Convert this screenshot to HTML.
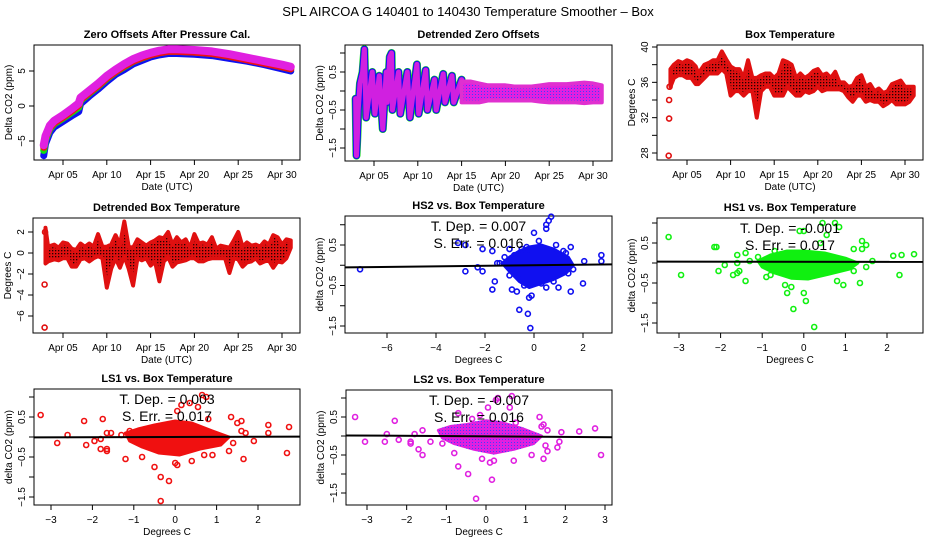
<!DOCTYPE html>
<html><head><meta charset="utf-8"><style>
html,body{margin:0;padding:0;background:#fff}
svg{display:block;font-family:"Liberation Sans",sans-serif}
</style></head><body>
<svg id="chart" width="936" height="540" viewBox="0 0 936 540">
<defs>
<pattern id="dotsRed" width="3" height="3" patternUnits="userSpaceOnUse"><rect width="3" height="3" fill="#e01010"/><rect x="1" y="1" width="1.3" height="1.3" fill="#200"/></pattern>
<pattern id="dotsMag" width="3" height="3" patternUnits="userSpaceOnUse"><rect width="3" height="3" fill="#e020e0"/><rect x="1" y="1" width="1" height="1" fill="#4040ff"/></pattern>
</defs>
<text x="468" y="16" text-anchor="middle" font-size="13">SPL   AIRCOA G   140401 to 140430   Temperature Smoother – Box</text>
</svg>
<script>
// ---- data ----
const zeroDays = [2.8,3.0,3.5,4.0,5.0,6.0,6.8,7.0,8,9,10,11,12,13,14,15,16,17,18,20,22,24,26,28,30,31];
const zeroMag  = [-5.6,-4.3,-2.8,-2.1,-1.3,-0.4,0.4,1.2,2.2,3.2,4.3,5.2,6.0,6.7,7.2,7.6,7.9,8.1,8.1,8.0,7.8,7.4,6.9,6.4,5.9,5.6];
const zeroBlue = [-7.1,-5.4,-3.8,-3.0,-2.2,-1.4,-0.8,0.3,1.4,2.4,3.5,4.5,5.2,6.0,6.5,7.0,7.3,7.5,7.5,7.4,7.2,6.8,6.4,5.9,5.3,5.0];
const detDays = [2.9,3.0,3.1,3.2,3.4,3.7,3.9,4.1,4.8,5.1,5.6,6.0,6.4,6.5,6.8,7.0,7.1,7.8,8.0,8.8,9.1,9.9,10.1,10.9,11.1,11.9,12.1,12.9,13.1,13.9,14.1,15.0,15.2];
const detVals = [-0.2,-1.7,-1.2,-0.5,0.2,0.5,1.1,-0.7,0.5,-0.6,0.4,-1.0,0.5,-0.3,0.9,1.0,-0.5,0.5,-0.6,0.5,-0.7,0.7,-0.6,0.55,-0.5,0.3,-0.5,0.45,-0.3,0.4,-0.3,0.3,-0.2];
const detTailDays = [15,16,17,18,19,20,21,22,23,24,25,26,27,28,29,30,31];
const detTailLo = [-0.3,-0.3,-0.3,-0.25,-0.25,-0.25,-0.25,-0.25,-0.25,-0.28,-0.3,-0.3,-0.3,-0.3,-0.32,-0.3,-0.3];
const detTailHi = [0.25,0.25,0.2,0.15,0.15,0.15,0.12,0.12,0.12,0.15,0.18,0.18,0.18,0.2,0.22,0.2,0.15];
const boxEarlyDays = [2.9,2.95,2.95,3.0];
const boxEarlyVals = [27.7,31.9,34.0,35.5];
const boxDays = [3.1,3.5,4,4.5,5,5.5,6,6.3,7,7.5,8,8.5,9,9.5,10,10.5,11,11.5,12,12.5,13,13.5,14,14.5,15,15.5,16,16.5,17,17.5,18,18.5,19,19.5,20,20.5,21,21.5,22,22.5,23,23.5,24,24.5,25,25.5,26,26.5,27,27.5,28,28.5,29,29.5,30,30.5,31];
const boxLo = [35.5,36.5,36.8,36.8,36.5,36.5,35.8,35.8,36.5,37,37,37,37.5,37,34.5,35,35,34.5,35,35,32,35,35.5,35.5,34.5,34.5,34.5,35.5,35,34.5,34.5,35,34.8,35,35.5,35,35.2,35.2,35.2,35.2,35,34.3,33.8,34.5,34.5,33.8,34,33.8,33.8,33.3,33.6,34,33.5,33.5,33.5,33.8,34.5];
const boxHi = [37.5,38,38.4,38.2,38.5,38.3,37.8,37,38,38.2,38.5,38.5,39.5,38.6,37.8,37.5,37.5,36.5,38.5,36.5,36.5,36.8,37,37,36.5,37,38.5,38.3,38,36.5,37,36.5,36.8,37.3,37.5,36.8,37,36.5,37.2,36,36,35.5,35.6,36.5,36.8,35.5,35.8,35,35.3,34.8,35,35.8,36,36.2,35.5,35.5,35.5];
const dboxEarlyDays = [2.9,2.9,2.95];
const dboxEarlyVals = [-7.1,-3.0,2.0];
const dboxDays = [3.0,3.3,4,4.5,5,5.5,6,6.5,7,7.5,8,8.5,9,9.5,10,10.5,11,11.5,12,12.5,13,13.5,14,14.5,15,15.5,16,16.5,17,17.5,18,18.5,19,19.5,20,20.5,21,21.5,22,22.5,23,23.5,24,24.5,25,25.5,26,26.5,27,27.5,28,28.5,29,29.5,30,30.5,31];
const dboxLo = [-1,-0.8,-0.6,-0.7,-0.5,-0.5,-1.3,-1.3,-0.6,-0.5,-0.8,-0.5,-0.3,-0.5,-3.3,-1.5,-0.5,-1.4,-0.3,-1.5,-3.1,-0.5,-0.7,-0.5,-1.2,-0.8,-2.7,-0.8,-0.4,-1.3,-0.9,-0.8,-0.7,-0.5,-0.5,-0.8,-0.8,-0.6,-0.5,-0.5,-0.5,-0.5,-1.9,-0.5,-0.6,-1.3,-0.9,-0.8,-0.5,-1.0,-0.8,-0.7,-1.4,-0.8,-0.9,-0.5,0.5];
const dboxHi = [2.4,0.6,0.8,0.5,1.0,0.9,0.4,0.3,0.9,0.6,0.9,0.6,1.8,0.6,0.6,0.8,1.7,0.8,3.0,0.6,0.5,1.3,1.0,0.7,1.0,1.2,1.5,1.4,2.0,0.8,1.5,1.0,1.3,0.5,1.8,0.9,1.0,0.8,1.5,0.4,0.7,0.6,0.5,1.2,2.0,0.6,1.0,0.7,0.8,0.6,1.1,0.8,1.7,1.5,0.8,1.3,1.2];
// scatter: HS2
const hs2X = [-7.1,-3.1,-2.8,-2.8,-2.3,-2.1,-2.1,-1.7,-1.6,-1.7,-0.9,-0.7,-0.6,-0.25,-0.15,-0.2,-0.1,0,0.5,0.5,0.6,0.7,0.2,1.5,1.5,1.2,2,2.05,2.75,2.75,1,0.5,-0.4,-1.5,-1.4,-0.5,-0.3,-1,1.6,1.4,-1.2,-1.0,-0.6,0.9,1.3,-0.8,0.3,0.8,-0.3];
const hs2Y = [-0.1,0.55,0.5,-0.15,-0.05,-0.15,0.4,0.35,-0.4,-0.6,-0.6,-0.65,-1.1,-1.2,-1.55,-0.8,-0.75,0.8,0.9,1.0,1.1,1.2,0.6,0.45,-0.65,0.35,-0.45,0.1,0.25,0.1,-0.55,-0.55,-0.5,0.05,0.05,0.4,0.45,0.4,-0.1,-0.2,0.2,-0.25,-0.3,0.5,0.3,0.25,-0.45,-0.4,0.35];
const hs2BlobX = [-1.3,-1,-0.6,-0.2,0.3,0.8,1.4,1.6,1.3,0.8,0.3,-0.2,-0.6,-1];
const hs2BlobY = [0.05,0.2,0.35,0.45,0.5,0.4,0.2,0,-0.2,-0.35,-0.45,-0.55,-0.4,-0.15];
// HS1
const hs1X = [-3.25,-2.95,-2.15,-2.1,-2.05,-1.9,-1.7,-1.6,-1.6,-1.6,-1.55,-1.4,-1.4,-1.3,-0.9,-0.8,-0.45,-0.4,-0.3,-0.25,0,0.05,0.25,-0.1,0,0.45,0.75,0.85,0.55,1.4,1.5,1.4,1.2,1.65,1.5,2.15,2.35,2.65,2.3,1.35,0.95,0.8,-1.1,1.2,-0.7,0.4];
const hs1Y = [0.65,-0.3,0.4,0.4,-0.2,-0.05,-0.3,-0.25,0.2,0,-0.2,-0.45,0.25,0.05,-0.35,-0.3,-0.55,-0.75,-0.6,-1.15,-0.75,-0.95,-1.6,0.8,0.8,1.0,1.0,0.9,0.7,0.55,0.45,0.35,0.35,0.05,-0.1,0.18,0.2,0.22,-0.3,-0.5,-0.55,-0.45,0.15,-0.2,0.3,0.5];
const hs1BlobX = [-1.1,-0.8,-0.4,0,0.5,1.0,1.3,1.1,0.6,0.1,-0.3,-0.7,-1.0];
const hs1BlobY = [0.05,0.2,0.3,0.3,0.25,0.12,0,-0.15,-0.28,-0.4,-0.38,-0.25,-0.1];
// LS1
const ls1X = [-3.25,-2.85,-2.6,-2.2,-2.15,-1.95,-1.8,-1.8,-1.65,-1.65,-1.65,-1.75,-1.55,-1.2,-0.8,-0.5,-0.35,-0.15,-0.35,0,0.05,0.4,0.05,0.15,0.35,0.55,0.65,0.75,0.8,1.35,1.5,1.6,1.6,1.7,1.9,2.25,2.25,2.75,2.7,1.65,1.3,0.7,0.9,-1.1,-1.3,1.4];
const ls1Y = [0.55,-0.15,0.05,0.4,-0.2,-0.1,-0.3,-0.05,0.1,-0.3,-0.35,0.45,0.1,-0.55,-0.5,-0.75,-1.0,-1.1,-1.6,-0.65,-0.7,-0.6,0.65,0.8,0.85,0.75,1.05,1.0,0.45,0.5,0.35,0.4,0.15,0.1,-0.1,0.3,0.1,0.25,-0.4,-0.55,-0.35,-0.45,-0.45,0.15,0.05,-0.15];
const ls1BlobX = [-1.2,-0.9,-0.5,0,0.4,0.9,1.3,1.1,0.6,0.1,-0.4,-0.8,-1.1];
const ls1BlobY = [0.1,0.2,0.3,0.4,0.35,0.15,0,-0.2,-0.3,-0.45,-0.4,-0.25,-0.1];
// LS2
const ls2X = [-3.3,-3.05,-2.55,-2.5,-2.3,-2.2,-1.9,-1.9,-1.8,-1.7,-1.6,-1.6,-1.4,-1.1,-0.8,-0.7,-0.45,-0.25,0.1,0.2,0.15,-0.1,0.05,0.25,0.3,0.6,0.65,0.75,1.35,1.4,1.45,1.55,1.5,1.55,1.45,1.15,0.7,1.8,1.85,1.9,2.35,2.75,2.9,-0.7,-0.15,-0.35];
const ls2Y = [0.5,-0.15,-0.15,0.05,0.4,-0.1,-0.15,-0.2,0.05,-0.35,-0.5,0.15,-0.15,-0.2,-0.45,-0.8,-1.0,-1.65,-0.7,-0.65,-1.15,-0.6,0.75,0.95,1.0,0.75,1.05,0.35,0.5,0.25,0.3,0.15,-0.25,-0.4,-0.6,-0.5,-0.65,-0.3,-0.15,0.1,0.12,0.2,-0.5,0.6,0.55,0.45];
const ls2BlobX = [-1.2,-0.9,-0.5,0,0.4,0.9,1.4,1.2,0.7,0.2,-0.3,-0.8,-1.1];
const ls2BlobY = [0.15,0.25,0.3,0.4,0.35,0.2,0,-0.2,-0.35,-0.45,-0.35,-0.2,-0.05];
// regression [intercept, slope]
const hs2Fit = [0.0, 0.007];
const hs1Fit = [0.03, -0.001];
const ls1Fit = [0.0, 0.003];
const ls2Fit = [-0.01, -0.007];
const dateTickVals = [5,10,15,20,25,30];
const dateTickLabels = ["Apr 05","Apr 10","Apr 15","Apr 20","Apr 25","Apr 30"];

const svg = document.getElementById('chart');
const NS = 'http://www.w3.org/2000/svg';
function el(tag, attrs, parent){const e=document.createElementNS(NS,tag);for(const k in attrs)e.setAttribute(k,attrs[k]);(parent||svg).appendChild(e);return e;}
function lin(c){return v=>c[1]+(v-c[0])*(c[3]-c[1])/(c[2]-c[0]);}

function panel(name, box, xcal, ycal, title, xlab, ylab, xt, xtl, yt, ytl){
  const g=el('g',{});
  
  
  const X=lin(xcal), Y=lin(ycal);
  const [x0,y0,x1,y1]=box;
  const fr=el('rect',{x:x0,y:y0,width:x1-x0,height:y1-y0,fill:'none',stroke:'#000','stroke-width':1},g);
  
  
  const t=el('text',{x:(x0+x1)/2,y:y0-7,'text-anchor':'middle','font-size':11,'font-weight':'bold'},g);t.textContent=title;
  
  
  const xa=el('g',{},g);
  
  
  el('line',{x1:X(xt[0]),x2:X(xt[xt.length-1]),y1:y1,y2:y1,stroke:'#000'},xa);
  xt.forEach((v,i)=>{el('line',{x1:X(v),x2:X(v),y1:y1,y2:y1+5,stroke:'#000'},xa);
    const l=el('text',{x:X(v),y:y1+18,'text-anchor':'middle','font-size':10},xa);l.textContent=xtl[i];});
  const xl=el('text',{x:(x0+x1)/2,y:y1+30,'text-anchor':'middle','font-size':10},g);xl.textContent=xlab;
  
  
  const ya=el('g',{},g);
  
  
  el('line',{x1:x0,x2:x0,y1:Y(yt[0]),y2:Y(yt[yt.length-1]),stroke:'#000'},ya);
  yt.forEach((v,i)=>{el('line',{x1:x0,x2:x0-5,y1:Y(v),y2:Y(v),stroke:'#000'},ya);
    if(ytl[i]!==''){const l=el('text',{x:x0-9,y:Y(v),'text-anchor':'middle','font-size':10,transform:`rotate(-90 ${x0-9} ${Y(v)})`},ya);l.textContent=ytl[i];}});
  const yl=el('text',{x:x0-22,y:(y0+y1)/2,'text-anchor':'middle','font-size':10,transform:`rotate(-90 ${x0-22} ${(y0+y1)/2})`},g);yl.textContent=ylab;
  
  
  return {g,X,Y,box};
}
function poly(p,xs,ys,stroke,w,name){
  const pts=xs.map((x,i)=>p.X(x)+','+p.Y(ys[i])).join(' ');
  const e=el('polyline',{points:pts,fill:'none',stroke:stroke,'stroke-width':w,'stroke-linejoin':'round','stroke-linecap':'round'},p.g);
  
  
}
function band(p,xs,lo,hi,name,fill,stroke){
  const pts=xs.map((x,i)=>p.X(x)+','+p.Y(hi[i])).concat(xs.slice().reverse().map((x,j)=>{const i=xs.length-1-j;return p.X(x)+','+p.Y(lo[i]);})).join(' ');
  const e=el('polygon',{points:pts,fill:fill||'url(#dotsRed)',stroke:stroke||'#e01010','stroke-width':4,'stroke-linejoin':'round'},p.g);
  
  
}
function pts(p,xs,ys,color,name){
  xs.forEach((x,i)=>{const c=el('circle',{cx:p.X(x),cy:p.Y(ys[i]),r:2.5,fill:'none',stroke:color,'stroke-width':1.6},p.g);
    
    });
}
function blob(p,xs,ys,color,name){
  const s=xs.map((x,i)=>p.X(x)+','+p.Y(ys[i])).join(' ');
  const e=el('polygon',{points:s,fill:color,stroke:color,'stroke-width':3,'stroke-linejoin':'round'},p.g);
  
  
}
function fit(p,f,name){
  const xa=(p.box[0]-p.X(0))/(p.X(1)-p.X(0)), xb=(p.box[2]-p.X(0))/(p.X(1)-p.X(0));
  const e=el('line',{x1:p.box[0],x2:p.box[2],y1:p.Y(f[0]+f[1]*xa),y2:p.Y(f[0]+f[1]*xb),stroke:'#000','stroke-width':2},p.g);
  
  
}
function stats(p,l1,l2){
  const cx=(p.box[0]+p.box[2])/2;
  const a=el('text',{x:cx,y:p.box[1]+15,'text-anchor':'middle','font-size':14},p.g);a.textContent=l1;
  
  
  const b=el('text',{x:cx,y:p.box[1]+32,'text-anchor':'middle','font-size':14},p.g);b.textContent=l2;
  
  
}

// Panel 1
let p=panel('zero-offsets-panel',[34,45,300,160],[5,63,30,282],[5,71,-5,141],'Zero Offsets After Pressure Cal.','Date (UTC)','Delta CO2  (ppm)',dateTickVals,dateTickLabels,[-5,0,5],['−5','0','5']);
poly(p,zeroDays,zeroBlue,'#1010f0',7,'hs2-series');
poly(p,zeroDays,zeroMag.map((v,i)=>(v+zeroBlue[i])/2),'#10e010',7,'hs1-series');
poly(p,zeroDays,zeroMag.map((v,i)=>v-0.3),'#f01010',7,'ls1-series');
poly(p,zeroDays,zeroMag,'#e020e0',8,'ls2-series');
// Panel 2
p=panel('detrended-zero-panel',[345,45,612,161],[5,374,30,593],[0.5,72,-1.5,148],'Detrended Zero Offsets','Date (UTC)','Delta CO2  (ppm)',dateTickVals,dateTickLabels,[1,0.5,0,-0.5,-1,-1.5],['','0.5','','−0.5','','−1.5']);
poly(p,detDays,detVals,'#10e010',8,'detrended-hs1');
poly(p,detDays,detVals,'#1010f0',7,'detrended-hs2');
poly(p,detDays,detVals,'#d020e0',5,'detrended-ls2');
band(p,detTailDays,detTailLo,detTailHi,'detrended-tail-band','url(#dotsMag)','#e030d0');
// Panel 3
p=panel('box-temp-panel',[657,45,923,160],[5,687,30,905],[40,47,28,153],'Box Temperature','Date (UTC)','Degrees C',dateTickVals,dateTickLabels,[28,30,32,34,36,38,40],['28','','32','','36','','40']);
pts(p,boxEarlyDays,boxEarlyVals,'#e01010','box-temp-point');
band(p,boxDays,boxLo,boxHi,'box-temp-band');
// Panel 4
p=panel('detrended-box-temp-panel',[33,218,300,333],[5,63,30,282],[2,232,-6,316],'Detrended Box Temperature','Date (UTC)','Degrees C',dateTickVals,dateTickLabels,[-6,-4,-2,0,2],['−6','−4','−2','0','2']);
pts(p,dboxEarlyDays,dboxEarlyVals,'#e01010','detrended-temp-point');
band(p,dboxDays,dboxLo,dboxHi,'detrended-temp-band');
// Panel 5 HS2
p=panel('hs2-scatter-panel',[345,216,612,333],[-6,387,2,583],[0.5,245,-1.5,326],'HS2 vs. Box Temperature','Degrees C','delta CO2 (ppm)',[-6,-4,-2,0,2],['−6','−4','−2','0','2'],[1,0.5,0,-0.5,-1,-1.5],['','0.5','','−0.5','','−1.5']);
blob(p,hs2BlobX,hs2BlobY,'#1010f0','hs2-dense-cluster');
pts(p,hs2X,hs2Y,'#1010f0','hs2-point');
fit(p,hs2Fit,'hs2-fit-line');
stats(p,'T. Dep. =  0.007','S. Err. =  0.016');
// Panel 6 HS1
p=panel('hs1-scatter-panel',[657,218,923,333],[-3,679,2,887],[0.5,243,-1.5,323],'HS1 vs. Box Temperature','Degrees C','delta CO2 (ppm)',[-3,-2,-1,0,1,2],['−3','−2','−1','0','1','2'],[1,0.5,0,-0.5,-1,-1.5],['','0.5','','−0.5','','−1.5']);
blob(p,hs1BlobX,hs1BlobY,'#10f010','hs1-dense-cluster');
pts(p,hs1X,hs1Y,'#10f010','hs1-point');
fit(p,hs1Fit,'hs1-fit-line');
stats(p,'T. Dep. = -0.001','S. Err. =  0.017');
// Panel 7 LS1
p=panel('ls1-scatter-panel',[34,389,300,505],[-3,51,2,258],[0.5,417,-1.5,497],'LS1 vs. Box Temperature','Degrees C','delta CO2 (ppm)',[-3,-2,-1,0,1,2],['−3','−2','−1','0','1','2'],[1,0.5,0,-0.5,-1,-1.5],['','0.5','','−0.5','','−1.5']);
blob(p,ls1BlobX,ls1BlobY,'#f01010','ls1-dense-cluster');
pts(p,ls1X,ls1Y,'#f01010','ls1-point');
fit(p,ls1Fit,'ls1-fit-line');
stats(p,'T. Dep. =  0.003','S. Err. =  0.017');
// Panel 8 LS2
p=panel('ls2-scatter-panel',[346,390,612,505],[-3,367,3,605],[0.5,417,-1.5,493],'LS2 vs. Box Temperature','Degrees C','delta CO2 (ppm)',[-3,-2,-1,0,1,2,3],['−3','−2','−1','0','1','2','3'],[1,0.5,0,-0.5,-1,-1.5],['','0.5','','−0.5','','−1.5']);
blob(p,ls2BlobX,ls2BlobY,'url(#dotsMag)','ls2-dense-cluster');
pts(p,ls2X,ls2Y,'#e020e0','ls2-point');
fit(p,ls2Fit,'ls2-fit-line');
stats(p,'T. Dep. = -0.007','S. Err. =  0.016');
</script>
</body></html>
